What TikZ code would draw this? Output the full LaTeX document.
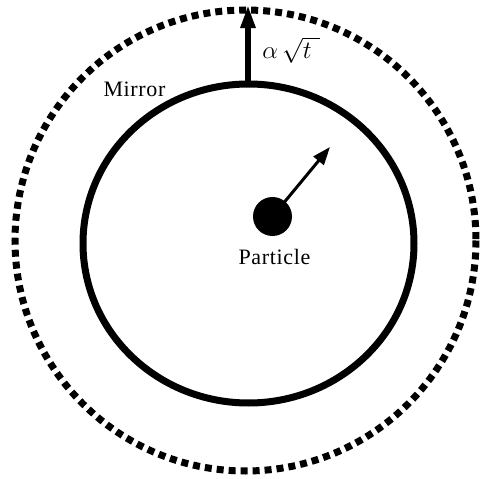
\documentclass[tikz,border=0pt]{standalone}
\usepackage{fontspec}
\setmainfont{Liberation Serif}
\usetikzlibrary{arrows.meta}
\begin{document}
\begin{tikzpicture}[x=1pt,y=-1pt,
  lab/.style={font=\fontsize{22}{26}\selectfont\addfontfeatures{LetterSpace=3}, inner sep=0pt},
  mathlab/.style={font=\fontsize{23}{26}\selectfont, inner sep=0pt},
  mirrorline/.style={line width=7pt, dash pattern=on 7pt off 5pt},
  wallline/.style={line width=7pt},
  growarrow/.style={line width=5.5pt, -{Triangle[length=23pt,width=14pt]}},
  veloarrow/.style={line width=3pt, -{Triangle[length=18pt,width=13pt]}},
  particledot/.style={circle, fill=black, minimum size=39pt, inner sep=0pt}]
\useasboundingbox (0,0) rectangle (480,479);
\draw[mirrorline] (245.5,240.5) circle[radius=230.5];
\draw[wallline] (248.5,243.5) ellipse[x radius=165.5, y radius=159.5];
\coordinate (rimtop) at (248,84);
\coordinate (tiptop) at (248,5);
\draw[growarrow] (rimtop) -- (tiptop);
\coordinate (dirtip) at (330,147);
\draw[veloarrow] (272.5,216.5) -- (dirtip);
\node[particledot] (particle) at (272.5,216.5) {};
\node[lab, anchor=base] (mirrorlab) at (134.5,96) {Mirror};
\node[lab, anchor=base] (particlelab) at (274.5,264.5) {Particle};
\node[mathlab] (ratelab) at (291,50) {$\alpha\,\sqrt{t\hspace{0.35em}}$};
\end{tikzpicture}
\end{document}
